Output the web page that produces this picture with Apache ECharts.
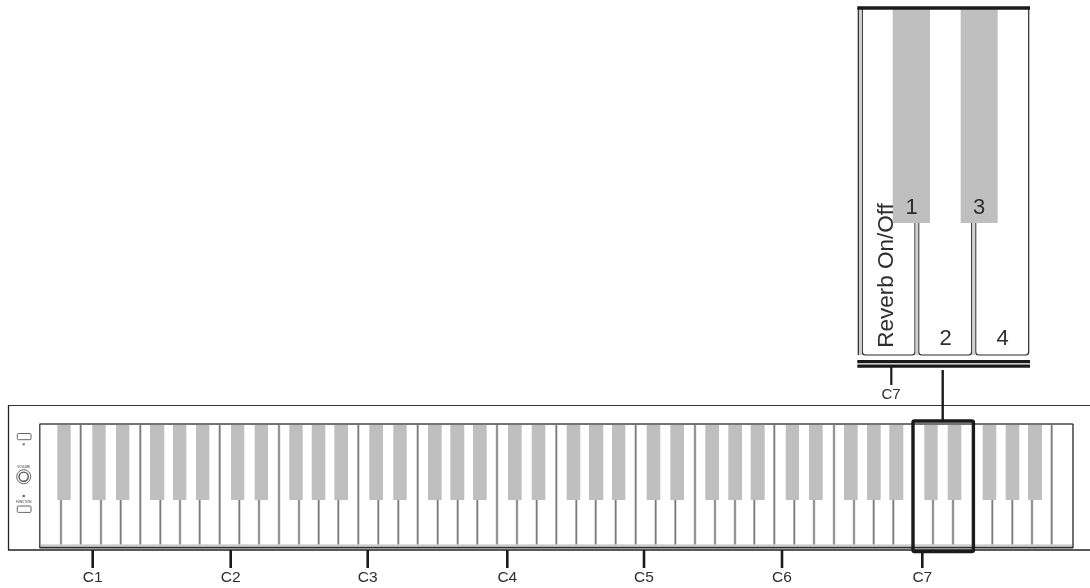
<!DOCTYPE html>
<html><head><meta charset="utf-8">
<script src="https://cdn.jsdelivr.net/npm/echarts@6/dist/echarts.min.js"></script>
<style>html,body{margin:0;padding:0;background:#fff}#c{width:1090px;height:588px}</style>
</head><body><div id="c"></div>
<script>
// Main keyboard readings, on an axis in image units
const tallDividers = [80.7,140.3,219.7,279,358.3,417.7,497,556.3,635.7,695,774.3,834,1051.7];
const shortDividers = [61,101,120.7,160.3,180,199.7,239.3,259,299,318.7,338.3,378.3,398.3,437.7,457.7,477.3,517,536.7,576.3,595.7,615.7,655.7,675.3,715,735,754.3,794.3,814,854,873.7,893.3,933,953,992.3,1012.3,1032];
const blackKeyLeft = [57.3,92.3,116,150,173,196,231,254.7,289.3,311.7,334.3,369.3,393.3,428,450.3,473,508,531.7,566.7,589,612,646.7,670.3,705.3,728.3,750.7,785.7,809,844,867,889.3,924.3,947.7,982.7,1005.7,1028];
const blackKeyRight = [70.7,105.7,129.3,164.3,186.3,209.3,244.3,268,302.7,325.3,348,383,406.7,441.7,464.3,486.7,521.7,545.3,580.3,603.3,625.3,660.3,684,719,742,764.7,799,822.7,857.7,880.7,903.3,937.7,961.3,996.3,1019.3,1042];
const octaveLabels = ['C1','C2','C3','C4','C5','C6','C7'];
const octaveTicks = [92.7,230.7,367.7,507.3,644,782,922.3];

// Enlarged section readings
const zoomKeyLeft = [862.3,918.7,975.7];
const zoomKeyRight = [915,971.7,1028.7];
const zoomBlackLeft = [892.7,960.7];
const zoomBlackRight = [930,997.7];
const zoomNumbers = ['1','3','2','4'];
const zoomNumberX = [911.7,979,945.7,1002.7];
const zoomNumberY = [208,208,339,339];

const seg = (x1,y1,x2,y2,color,width)=>({x1,y1,x2,y2,color,width});
const rectItem = (x0,y0,x1,y1)=>({x0,y0,x1,y1});
const txt = (x,y,text,size,rot)=>({x,y,text,size,rot:rot||0});

const segments = [];
tallDividers.forEach(x=>{
  segments.push(seg(x,425,x,546,'#c4c4c4',2.6));
  segments.push(seg(x,425,x,546,'#6e6e6e',1.1));
});
shortDividers.forEach(x=>{
  segments.push(seg(x,500,x,546,'#c4c4c4',2.6));
  segments.push(seg(x,500,x,546,'#6e6e6e',1.1));
});
segments.push(seg(41,545.5,1072,545.5,'#cfcfcf',2.4));
segments.push(seg(8,405.5,1090,405.5,'#333',1.2));
segments.push(seg(8.5,405,8.5,550,'#222',1.3));
segments.push(seg(8,550,1090,550,'#222',1.3));
segments.push(seg(39.5,424,1073,424,'#444',1.6));
segments.push(seg(39.5,547.6,1073,547.6,'#333',1.6));
segments.push(seg(39.8,424,39.8,548,'#333',1.3));
segments.push(seg(1073,424,1073,548,'#222',1.3));
octaveTicks.forEach(x=>segments.push(seg(x,550,x,568,'#1a1a1a',2.6)));
// enlarged section frame
segments.push(seg(857.3,8,1030,8,'#1a1a1a',3.4));
segments.push(seg(858.3,8,858.3,355,'#222',1.2));
segments.push(seg(857.3,361.6,1030,361.6,'#1a1a1a',3.2));
segments.push(seg(857.3,366.2,1030,366.2,'#1a1a1a',3.2));
segments.push(seg(891.3,367,891.3,385,'#1a1a1a',2.2));
segments.push(seg(942.7,370,942.7,421,'#1a1a1a',2.4));

const zoomKeys = zoomKeyLeft.map((x,i)=>rectItem(x,8,zoomKeyRight[i],355));
const gaps = [rectItem(858.8,9,862,355),rectItem(915.4,223,918.3,355),rectItem(972.1,223,975.3,355)];

const texts = [
  ...octaveLabels.map((t,i)=>txt(octaveTicks[i],578,t,15.5)),
  txt(891,395,'C7',15),
  txt(887,275.5,'Reverb On/Off',22.5,90),
  ...zoomNumbers.map((t,i)=>txt(zoomNumberX[i],zoomNumberY[i],t,22)),
  txt(23.7,466.7,'VOLUME',3),
  txt(23.7,501.7,'FUNCTION',3)
];
const panelRects = [rectItem(17.3,433.5,31,439.7),rectItem(17.3,506,31,512.4)];
const panelDots = [[23.7,444.3,1.3,'#888'],[23.7,496,1.3,'#666']];
const panelRings = [[23.7,476.7,7,'#666',1],[23.7,476.7,4.6,'#555',1.4]];

function rectSeries(items,z,style,r){
  return {type:'custom',coordinateSystem:'cartesian2d',silent:true,z,clip:false,
    data:items.map(d=>[d.x0,d.y0,d.x1,d.y1]),
    encode:{x:[0,2],y:[1,3]},
    renderItem(p,api){
      const a=api.coord([api.value(0),api.value(1)]),b=api.coord([api.value(2),api.value(3)]);
      return {type:'rect',shape:{x:a[0],y:a[1],width:b[0]-a[0],height:b[1]-a[1],r:r||0},style};
    }};
}
const option = {
  animation:false,
  backgroundColor:'#fff',
  grid:{left:0,right:0,top:0,bottom:0},
  xAxis:{type:'value',min:0,max:1090,show:false},
  yAxis:{type:'value',min:0,max:588,inverse:true,show:false},
  series:[
    rectSeries(zoomKeys,1,{fill:'#fff',stroke:'#2a2a2a',lineWidth:1.2},[0,0,3,3]),
    rectSeries(gaps,1,{fill:'#cfcfcf'}),
    rectSeries(blackKeyLeft.map((x,i)=>rectItem(x,425,blackKeyRight[i],500)),2,{fill:'#bfbfc0'}),
    rectSeries(zoomBlackLeft.map((x,i)=>rectItem(x,9,zoomBlackRight[i],223)),2,{fill:'#bfbfc0'}),
    rectSeries(panelRects,3,{fill:'#fff',stroke:'#666',lineWidth:1},1),
    {type:'custom',coordinateSystem:'cartesian2d',silent:true,z:3,clip:false,
      data:segments.map(s=>[s.x1,s.y1,s.x2,s.y2]),
      encode:{x:[0,2],y:[1,3]},
      renderItem(p,api){
        const s=segments[p.dataIndex];
        const a=api.coord([s.x1,s.y1]),b=api.coord([s.x2,s.y2]);
        return {type:'line',shape:{x1:a[0],y1:a[1],x2:b[0],y2:b[1]},style:{stroke:s.color,lineWidth:s.width}};
      }},
    {type:'custom',coordinateSystem:'cartesian2d',silent:true,z:3,clip:false,
      data:panelRings.map(d=>[d[0],d[1]]),encode:{x:0,y:1},
      renderItem(p,api){
        const d=panelRings[p.dataIndex],c=api.coord([d[0],d[1]]);
        return {type:'circle',shape:{cx:c[0],cy:c[1],r:d[2]},style:{fill:'none',stroke:d[3],lineWidth:d[4]}};
      }},
    {type:'custom',coordinateSystem:'cartesian2d',silent:true,z:3,clip:false,
      data:panelDots.map(d=>[d[0],d[1]]),encode:{x:0,y:1},
      renderItem(p,api){
        const d=panelDots[p.dataIndex],c=api.coord([d[0],d[1]]);
        return {type:'circle',shape:{cx:c[0],cy:c[1],r:d[2]},style:{fill:d[3]}};
      }},
    // highlight box around the C7 section
    rectSeries([rectItem(913,421,973.4,551.5)],4,{fill:'none',stroke:'#1a1a1a',lineWidth:3.4},1.5),
    {type:'custom',coordinateSystem:'cartesian2d',silent:true,z:5,clip:false,
      data:texts.map(t=>[t.x,t.y]),encode:{x:0,y:1},
      renderItem(p,api){
        const t=texts[p.dataIndex],c=api.coord([t.x,t.y]);
        return {type:'text',x:c[0],y:c[1],rotation:t.rot?Math.PI/2:0,
          style:{text:t.text,fontFamily:'"Liberation Sans",Arial,sans-serif',fontSize:t.size,fill:'#2e2e2e',align:'center',verticalAlign:'middle'}};
      }}
  ]
};
echarts.init(document.getElementById('c'),null,{renderer:'canvas'}).setOption(option);
</script></body></html>
